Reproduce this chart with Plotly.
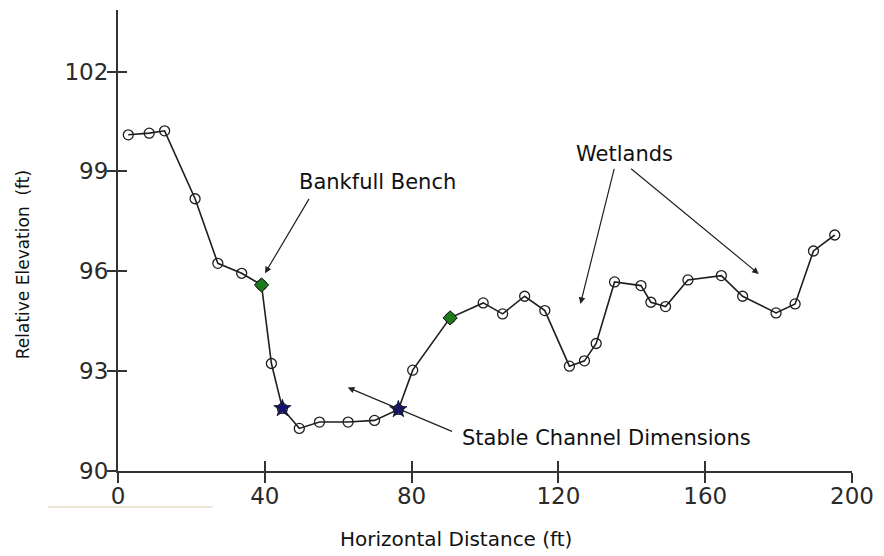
import plotly.graph_objects as go

# Surveyed cross-section: horizontal station (ft) and relative elevation (ft)
station_ft = [2.8, 8.5, 12.7, 21.0, 27.2, 33.7, 39.1, 41.8, 44.8, 49.4,
              54.9, 62.7, 69.9, 76.4, 80.3, 90.5, 99.5, 104.8, 110.8, 116.3,
              123.0, 127.1, 130.3, 135.3, 142.5, 145.2, 149.2, 155.3, 164.4, 170.2,
              179.3, 184.5, 189.5, 195.3]
elevation_ft = [100.10, 100.15, 100.22, 98.18, 96.24, 95.94, 95.59, 93.23, 91.88, 91.28,
                91.47, 91.47, 91.52, 91.85, 93.03, 94.60, 95.05, 94.72, 95.25, 94.82,
                93.15, 93.31, 93.83, 95.68, 95.57, 95.07, 94.94, 95.74, 95.87, 95.25,
                94.75, 95.02, 96.61, 97.09]

# Indices of flagged survey points
bankfull_idx = [6, 15]
channel_toe_idx = [8, 13]

x_ticks = [0, 40, 80, 120, 160, 200]
y_ticks = [90, 93, 96, 99, 102]

FONT = "DejaVu Sans"
INK = "#1e1e1e"

fig = go.Figure()

fig.add_trace(go.Scatter(
    x=station_ft, y=elevation_ft, mode="lines+markers",
    line=dict(color=INK, width=1.6),
    marker=dict(symbol="circle-open", size=10, color=INK, line=dict(width=1.3)),
    hoverinfo="x+y", showlegend=False,
))

fig.add_trace(go.Scatter(
    x=[station_ft[i] for i in bankfull_idx],
    y=[elevation_ft[i] for i in bankfull_idx],
    mode="markers",
    marker=dict(symbol="diamond", size=11, color="#1d7a1d", line=dict(color="#111", width=1)),
    showlegend=False,
))

fig.add_trace(go.Scatter(
    x=[station_ft[i] for i in channel_toe_idx],
    y=[elevation_ft[i] for i in channel_toe_idx],
    mode="markers",
    marker=dict(symbol="star", size=13, color="#12127a", line=dict(color="#111", width=0.8)),
    showlegend=False,
))

# invisible trace that carries the overlay axes (inner half of crossing ticks)
fig.add_trace(go.Scatter(
    x=station_ft, y=elevation_ft, xaxis="x2", yaxis="y2", mode="markers",
    marker=dict(opacity=0), hoverinfo="skip", showlegend=False,
))

axis_font = dict(family=FONT, size=23, color="#2a2a2a")

fig.update_layout(
    width=884, height=556,
    margin=dict(l=118, r=28, t=10, b=85),
    paper_bgcolor="white", plot_bgcolor="white",
    xaxis=dict(
        range=[0, 200], tickvals=x_ticks, ticks="outside", ticklen=10, tickwidth=1.6,
        tickcolor="#333", showline=True, linecolor="#333", linewidth=2,
        showgrid=False, zeroline=False, tickfont=axis_font, ticklabelstandoff=-7,
    ),
    yaxis=dict(
        range=[90, 103.85], tickvals=y_ticks, ticks="outside", ticklen=9, tickwidth=1.6,
        tickcolor="#333", showline=True, linecolor="#333", linewidth=2,
        showgrid=False, zeroline=False, tickfont=axis_font, ticklabelstandoff=-6,
    ),
    xaxis2=dict(
        overlaying="x", matches="x", anchor="y2", tickvals=x_ticks, ticks="inside",
        ticklen=10, tickwidth=1.6, tickcolor="#333", showticklabels=False,
        showline=False, showgrid=False, zeroline=False,
    ),
    yaxis2=dict(
        overlaying="y", matches="y", anchor="x2", side="left", tickvals=y_ticks,
        ticks="inside", ticklen=9, tickwidth=1.6, tickcolor="#333",
        showticklabels=False, showline=False, showgrid=False, zeroline=False,
    ),
)

# axis titles
fig.add_annotation(xref="paper", yref="paper", x=0.4607, y=-0.147,
                   text="Horizontal Distance (ft)", showarrow=False,
                   xanchor="center", yanchor="middle",
                   font=dict(family=FONT, size=20, color="#111"))
fig.add_annotation(xref="paper", yref="paper", x=-0.129, y=0.447,
                   text="Relative Elevation\u00a0\u00a0(ft)", showarrow=False, textangle=-90,
                   xanchor="center", yanchor="middle",
                   font=dict(family=FONT, size=17, color="#111"))

label_font = dict(family=FONT, size=21, color="#111")

# callout labels
labels = [
    ("Bankfull Bench", 70.8, 98.67),
    ("Wetlands", 138.0, 99.53),
    ("Stable Channel Dimensions", 133.2, 90.99),
]
for text, lx, ly in labels:
    fig.add_annotation(x=lx, y=ly, text=text, showarrow=False, font=label_font,
                       xanchor="center", yanchor="middle")

# callout arrows: (tail x, tail y, head x, head y)
arrows = [
    (52.3, 98.22, 40.05, 95.94),
    (135.3, 99.12, 126.0, 95.02),
    (139.4, 99.12, 174.6, 95.92),
    (91.4, 91.17, 62.6, 92.51),
]
for tx, ty, hx, hy in arrows:
    fig.add_annotation(x=hx, y=hy, ax=tx, ay=ty, axref="x", ayref="y", text="",
                       showarrow=True, arrowhead=2, arrowsize=1.1, arrowwidth=1.2,
                       arrowcolor="#222", standoff=0, startstandoff=0)

# faint rule under the origin label
fig.add_shape(type="line", xref="paper", yref="paper", x0=-0.095, x1=0.129,
              y0=-0.078, y1=-0.078, line=dict(color="#ece6d6", width=2))

fig.write_html("out.html")
